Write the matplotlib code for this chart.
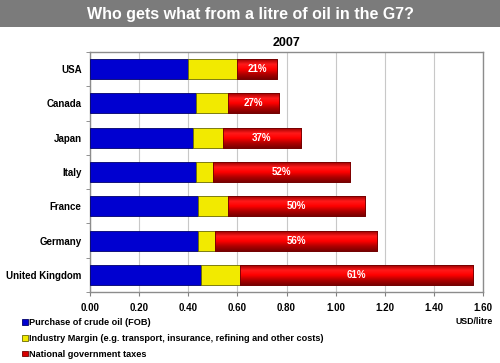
import matplotlib
matplotlib.use("Agg")
import matplotlib.pyplot as plt
import numpy as np
from matplotlib.colors import LinearSegmentedColormap
from matplotlib.patches import Rectangle

plt.rcParams['font.family'] = ['Liberation Sans', 'DejaVu Sans']

countries = ["USA", "Canada", "Japan", "Italy", "France", "Germany", "United Kingdom"]
crude = [0.40, 0.43, 0.42, 0.43, 0.44, 0.44, 0.45]
margin = [0.20, 0.13, 0.12, 0.07, 0.12, 0.07, 0.16]
taxes = [0.16, 0.21, 0.32, 0.56, 0.56, 0.66, 0.95]
tax_share = ["21%", "27%", "37%", "52%", "50%", "56%", "61%"]
xticks = [0.0, 0.2, 0.4, 0.6, 0.8, 1.0, 1.2, 1.4, 1.6]
legend_labels = ["Purchase of crude oil (FOB)",
                 "Industry Margin (e.g. transport, insurance, refining and other costs)",
                 "National government taxes"]

W, H = 500, 363
fig = plt.figure(figsize=(W / 100, H / 100), dpi=100)
fig.patch.set_facecolor("white")

# title banner
fig.patches.append(Rectangle((0, 1 - 27 / H), 1, 27 / H, transform=fig.transFigure,
                             facecolor="#7b7b7b", edgecolor="none", zorder=0))
fig.text(0.5, 1 - 14 / H, "Who gets what from a litre of oil in the G7?", color="white",
         fontsize=11.5, fontweight="bold", ha="center", va="center")

ax = fig.add_axes([90 / W, 1 - 292 / H, (483 - 90) / W, (292 - 52) / H])
ax.set_title("2007", fontsize=9, fontweight="bold", pad=4)

y = np.arange(len(countries))
h = 0.58
crude_a = np.array(crude)
margin_a = np.array(margin)
taxes_a = np.array(taxes)
b1 = ax.barh(y, crude_a, height=h, color="#0000d0", edgecolor="#00006a", linewidth=0.6, zorder=3)
b2 = ax.barh(y, margin_a, left=crude_a, height=h, color="#f2ea00", edgecolor="#6a6a00", linewidth=0.6, zorder=3)
b3 = ax.barh(y, taxes_a, left=crude_a + margin_a, height=h, color="#d80000", edgecolor="#700000", linewidth=0.6, zorder=3)

# gradient shading for red bars
cmap = LinearSegmentedColormap.from_list("red3d", ["#9a0000", "#ff1a1a", "#ff0000", "#b00000", "#7a0000"])
grad = np.linspace(0, 1, 64).reshape(-1, 1)
for rect in b3:
    x0, y0 = rect.get_x(), rect.get_y()
    w, hh = rect.get_width(), rect.get_height()
    im = ax.imshow(grad, cmap=cmap, extent=[x0, x0 + w, y0 + hh, y0], aspect="auto",
                   origin="upper", zorder=3.5, interpolation="bilinear")
    im.set_clip_path(rect)
    ax.add_patch(Rectangle((x0, y0), w, hh, fill=False, edgecolor="#700000", linewidth=0.6, zorder=3.6))

for i, rect in enumerate(b3):
    cx = rect.get_x() + rect.get_width() / 2
    ax.text(cx, y[i], tax_share[i], color="white", fontsize=7, fontweight="bold",
            ha="center", va="center", zorder=5)

ax.set_xlim(0, 1.6)
ax.set_ylim(len(countries) - 0.5, -0.5)
ax.set_xticks(xticks)
ax.set_xticklabels([f"{v:.2f}" for v in xticks], fontsize=7, fontweight="bold")
ax.set_yticks(y)
ax.set_yticklabels(countries, fontsize=7, fontweight="bold")
ax.tick_params(axis="y", length=0, pad=6)
ax.set_yticks(np.arange(-0.5, len(countries), 1), minor=True)
ax.tick_params(axis="y", which="minor", length=3, color="#808080")
ax.tick_params(axis="x", length=3, color="#808080", pad=5)
ax.grid(axis="x", color="#c8c8c8", linewidth=0.8, zorder=0)
for s in ax.spines.values():
    s.set_color("#8c8c8c")
    s.set_linewidth(1.0)

fig.text(474 / W, 1 - 322 / H, "USD/litre", fontsize=6.3, fontweight="bold", ha="center", va="center")

fig.legend([b1, b2, b3], legend_labels, loc="upper left", bbox_to_anchor=(22 / W, 1 - 318 / H),
           frameon=False, prop={"weight": "bold", "size": 6.6},
           handlelength=0.6, handleheight=0.6, handletextpad=0.2, labelspacing=0.75,
           borderaxespad=0, borderpad=0)

fig.savefig("out.png", dpi=100, facecolor="white")
